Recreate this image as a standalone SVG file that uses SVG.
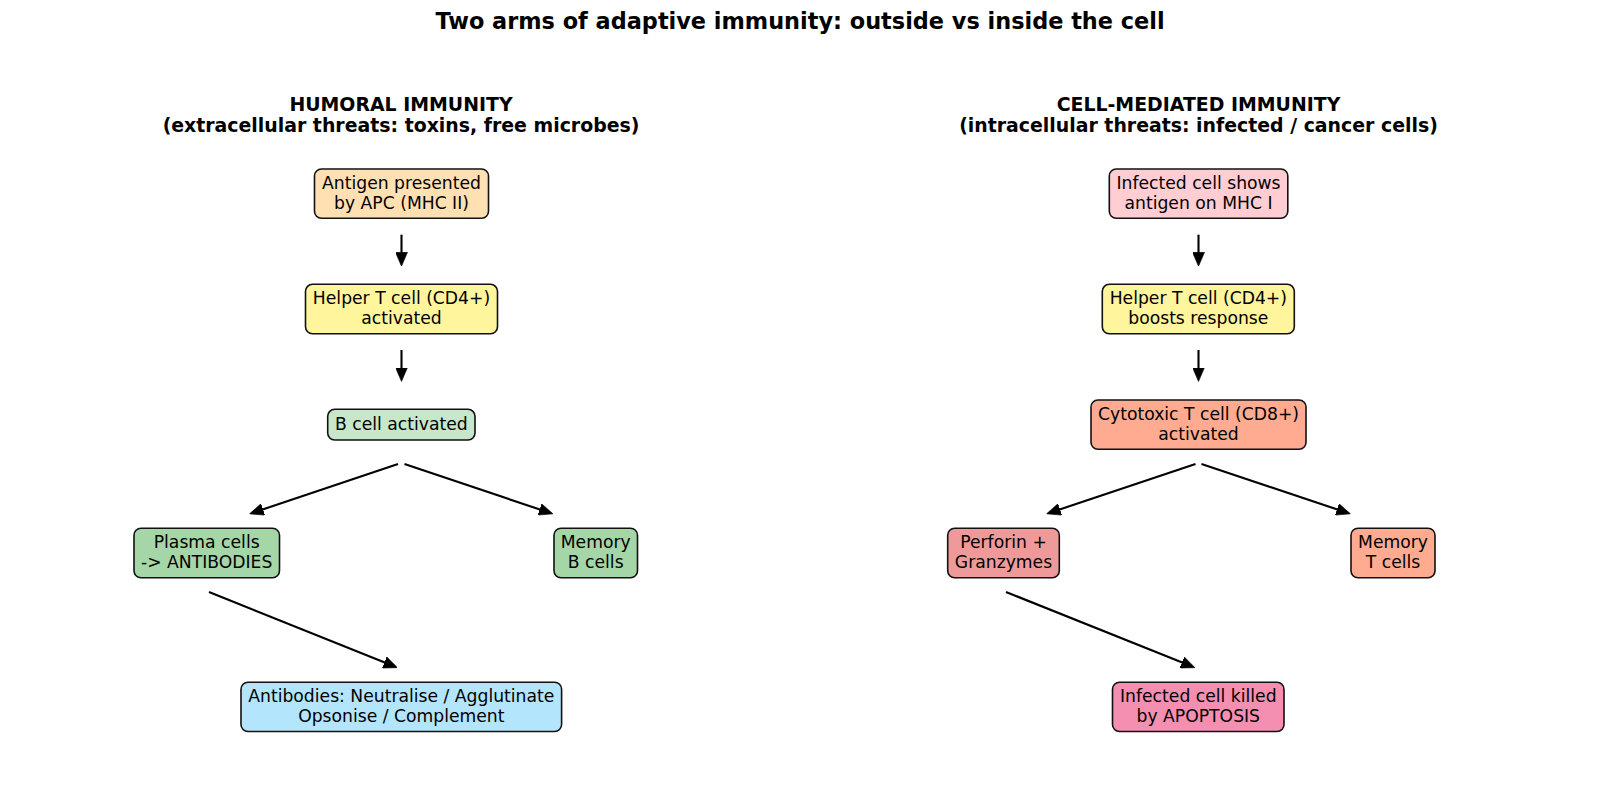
<svg xmlns="http://www.w3.org/2000/svg" width="1600" height="796" viewBox="0 0 1600 796">
  <style>
    text { font-family: "DejaVu Sans", "Liberation Sans", sans-serif; fill: #000; text-anchor: middle; }
    .title { font-size: 22.4px; font-weight: bold; }
    .head { font-size: 18.9px; font-weight: bold; }
    .lbl { font-size: 17.2px; }
    .box { stroke: #111; stroke-width: 1.6; }
    .conn { stroke: #000; stroke-width: 2.1; fill: none; marker-end: url(#head); }
  </style>
  <defs>
    <marker id="head" viewBox="0 0 14 12" refX="5" refY="6" markerWidth="14" markerHeight="12" markerUnits="userSpaceOnUse" orient="auto">
      <path d="M0,0 L14,6 L0,12 Z" fill="#000" stroke="#000" stroke-width="0.6" stroke-linejoin="miter"/>
    </marker>
  </defs>
  <rect width="1600" height="796" fill="#fff"/>

  <text class="title" x="800" y="28.5">Two arms of adaptive immunity: outside vs inside the cell</text>

  <g id="header-humoral">
    <text class="head" x="401" y="110.5">HUMORAL IMMUNITY</text>
    <text class="head" x="401" y="131.5">(extracellular threats: toxins, free microbes)</text>
  </g>
  <g id="header-cell">
    <text class="head" x="1198.5" y="110.5">CELL-MEDIATED IMMUNITY</text>
    <text class="head" x="1198.5" y="131.5">(intracellular threats: infected / cancer cells)</text>
  </g>

  <!-- humoral arm -->
  <g id="antigen-apc">
    <rect class="box" x="314.5" y="169" width="174" height="49.3" rx="7" fill="#FFE0B2"/>
    <text class="lbl" x="401.5" y="189">Antigen presented</text>
    <text class="lbl" x="401.5" y="209">by APC (MHC II)</text>
  </g>
  <g id="helper-t-humoral">
    <rect class="box" x="305.5" y="284.3" width="192" height="49.5" rx="7" fill="#FFF59D"/>
    <text class="lbl" x="401.5" y="304.3">Helper T cell (CD4+)</text>
    <text class="lbl" x="401.5" y="324.3">activated</text>
  </g>
  <g id="b-cell">
    <rect class="box" x="327.7" y="409.3" width="147.3" height="30.7" rx="7" fill="#C8E6C9"/>
    <text class="lbl" x="401.3" y="430">B cell activated</text>
  </g>
  <g id="plasma-cells">
    <rect class="box" x="134" y="528.2" width="145.5" height="49.6" rx="7" fill="#A5D6A7"/>
    <text class="lbl" x="206.7" y="548.3">Plasma cells</text>
    <text class="lbl" x="206.7" y="568.3">-&gt; ANTIBODIES</text>
  </g>
  <g id="memory-b">
    <rect class="box" x="554" y="528.2" width="83.5" height="49.6" rx="7" fill="#A5D6A7"/>
    <text class="lbl" x="595.7" y="548.3">Memory</text>
    <text class="lbl" x="595.7" y="568.3">B cells</text>
  </g>
  <g id="antibodies">
    <rect class="box" x="241" y="682.2" width="320.6" height="49.3" rx="7" fill="#B3E5FC"/>
    <text class="lbl" x="401.3" y="702">Antibodies: Neutralise / Agglutinate</text>
    <text class="lbl" x="401.3" y="722">Opsonise / Complement</text>
  </g>

  <!-- cell-mediated arm -->
  <g id="infected-cell">
    <rect class="box" x="1109.3" y="169" width="178.5" height="49.3" rx="7" fill="#FFCDD2"/>
    <text class="lbl" x="1198.5" y="189">Infected cell shows</text>
    <text class="lbl" x="1198.5" y="209">antigen on MHC I</text>
  </g>
  <g id="helper-t-cell">
    <rect class="box" x="1102.3" y="284.3" width="192" height="49.5" rx="7" fill="#FFF59D"/>
    <text class="lbl" x="1198.3" y="304.3">Helper T cell (CD4+)</text>
    <text class="lbl" x="1198.3" y="324.3">boosts response</text>
  </g>
  <g id="cytotoxic-t">
    <rect class="box" x="1091" y="400" width="215" height="49.3" rx="7" fill="#FFAB91"/>
    <text class="lbl" x="1198.5" y="420">Cytotoxic T cell (CD8+)</text>
    <text class="lbl" x="1198.5" y="440">activated</text>
  </g>
  <g id="perforin">
    <rect class="box" x="947.7" y="528.2" width="111.6" height="49.6" rx="7" fill="#EF9A9A"/>
    <text class="lbl" x="1003.5" y="548.3">Perforin +</text>
    <text class="lbl" x="1003.5" y="568.3">Granzymes</text>
  </g>
  <g id="memory-t">
    <rect class="box" x="1351" y="528.2" width="84" height="49.6" rx="7" fill="#FFAB91"/>
    <text class="lbl" x="1393" y="548.3">Memory</text>
    <text class="lbl" x="1393" y="568.3">T cells</text>
  </g>
  <g id="apoptosis">
    <rect class="box" x="1112.5" y="682.2" width="171.5" height="49.3" rx="7" fill="#F48FB1"/>
    <text class="lbl" x="1198.3" y="702">Infected cell killed</text>
    <text class="lbl" x="1198.3" y="722">by APOPTOSIS</text>
  </g>

  <g id="connectors">
    <path class="conn" d="M401.5,234.7 L401.5,257.3"/>
    <path class="conn" d="M401.5,350 L401.5,372.5"/>
    <path class="conn" d="M398,464 L258.1,511"/>
    <path class="conn" d="M404.5,464 L544.4,511"/>
    <path class="conn" d="M209,592 L389.1,664.3"/>
    <path class="conn" d="M1198.5,234.7 L1198.5,257.3"/>
    <path class="conn" d="M1198.5,350 L1198.5,372.5"/>
    <path class="conn" d="M1195.5,464 L1055.1,511"/>
    <path class="conn" d="M1201.5,464 L1341.9,511"/>
    <path class="conn" d="M1006,592 L1186.6,664.3"/>
  </g>
</svg>
